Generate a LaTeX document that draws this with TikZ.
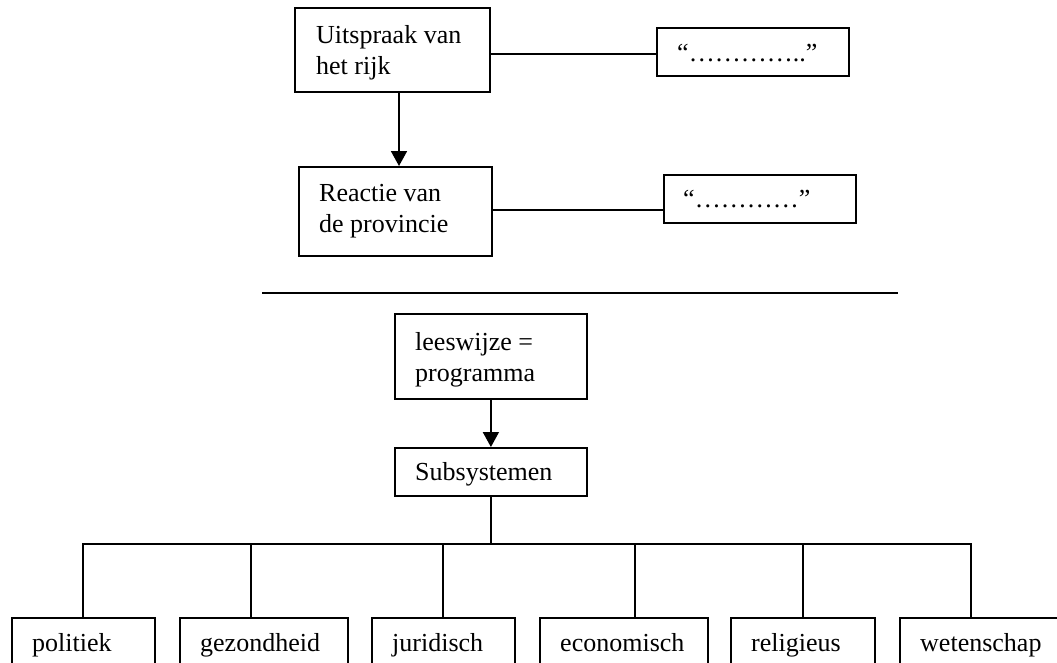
\documentclass[tikz,border=0pt]{standalone}
\usepackage{fontspec}
\setmainfont{Liberation Serif}
\usetikzlibrary{arrows.meta,calc}
% two lines of text, baseline at the first line
\newcommand{\stackedlines}[2]{\vtop{\hbox{#1}\hbox{#2}}}
\begin{document}
\begin{tikzpicture}[x=1pt,y=-1pt,
  box/.style 2 args={draw, line width=1.8pt, anchor=north west, inner sep=0pt,
    minimum width=#1, minimum height=#2},
  txt/.style={anchor=base west, inner sep=0pt, font=\fontsize{26}{31}\selectfont},
  conn/.style={line width=1.8pt},
  arrow/.style={line width=1.8pt, -{Triangle[length=15pt,width=16pt]}}
]
\path[use as bounding box] (0,0) rectangle (1057,662);
\clip (0,0) rectangle (1057,662);

% upper part
\node[box={195}{84}] (uitspraak) at (294,7) {};
\node[txt] (uitspraak-t) at ($(uitspraak.north west)+(22,36)$) {\stackedlines{Uitspraak van}{het rijk}};
\node[box={192}{48}] (q1) at (656,27) {};
\node[txt] (q1-t) at ($(q1.north west)+(21,34)$) {“…………..”};
\node[box={193}{89}] (reactie) at (298,166) {};
\node[txt] (reactie-t) at ($(reactie.north west)+(21,35)$) {\stackedlines{Reactie van}{de provincie}};
\node[box={192}{48}] (q2) at (663,174) {};
\node[txt] (q2-t) at ($(q2.north west)+(20,33)$) {“…………”};

\coordinate (a1) at (399,0);
\draw[conn] ([yshift=-4pt]uitspraak.east) -- ([yshift=-4pt]uitspraak.east -| q1.west);
\draw[arrow] (uitspraak.south -| a1) -- (reactie.north -| a1);
\draw[conn] ([yshift=1.5pt]reactie.east) -- ([yshift=1.5pt]reactie.east -| q2.west);

% separator
\coordinate (sepL) at (262,293);
\coordinate (sepR) at (898,293);
\draw[conn] (sepL) -- (sepR);

% lower part
\node[box={192}{85}] (lees) at (394,313) {};
\node[txt] (lees-t) at ($(lees.north west)+(21,37)$) {\stackedlines{leeswijze =}{programma}};
\node[box={192}{48}] (sub) at (394,447) {};
\node[txt] (sub-t) at ($(sub.north west)+(21,33)$) {Subsystemen};
\draw[arrow] (lees.south) -- (sub.north);

\foreach \n/\x/\w/\t in {pol/11/143/politiek, gez/179/168/gezondheid,
    jur/371/143/juridisch, eco/539/168/economisch, rel/730/144/religieus,
    wet/899/168/wetenschap}{
  \node[box={\w}{80}] (\n) at (\x,617) {};
  \node[txt] (\n-t) at ($(\n.north west)+(21,34)$) {\t};
}

\coordinate (bus) at (491,544);
\coordinate (d1) at (83,544);
\coordinate (d2) at (251,544);
\coordinate (d3) at (443,544);
\coordinate (d4) at (635,544);
\coordinate (d5) at (803,544);
\coordinate (d6) at (971,544);
\draw[conn] (sub.south) -- (sub.south |- bus);
\draw[conn, line cap=rect] (d1) -- (d6);
\draw[conn] (d1) -- (d1 |- pol.north);
\draw[conn] (d2) -- (d2 |- gez.north);
\draw[conn] (d3) -- (d3 |- jur.north);
\draw[conn] (d4) -- (d4 |- eco.north);
\draw[conn] (d5) -- (d5 |- rel.north);
\draw[conn] (d6) -- (d6 |- wet.north);
\end{tikzpicture}
\end{document}
